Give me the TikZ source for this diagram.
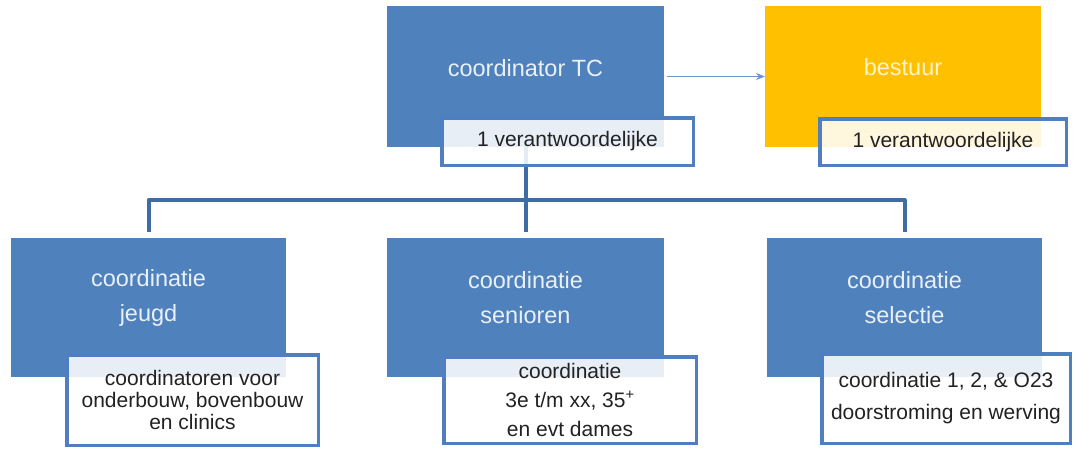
\documentclass[tikz,border=0pt]{standalone}
\usepackage{fontspec}
\setmainfont{Liberation Sans}
\usetikzlibrary{arrows.meta}
\definecolor{boxblue}{HTML}{4F81BD}
\definecolor{edgeblue}{HTML}{4F7FC0}
\definecolor{busblue}{HTML}{3E6CA3}
\definecolor{arrowblue}{HTML}{6C95CF}
\definecolor{gold}{HTML}{FFC000}
\definecolor{labtext}{HTML}{222222}
\tikzset{
  mainbox/.style={fill=boxblue, draw=none, inner sep=0pt, outer sep=0pt},
  goldbox/.style={fill=gold, draw=none, inner sep=0pt, outer sep=0pt},
  labbox/.style={draw=edgeblue, line width=3.5pt, fill=white, fill opacity=0.87, text opacity=1,
     inner sep=0pt, outer sep=0pt, align=center, text=labtext, font=\fontsize{21}{22}\selectfont},
  title/.style={text=white!88!boxblue, align=center, inner sep=0pt, font=\fontsize{23.5}{35}\selectfont},
  gtitle/.style={text=white!80!gold, align=center, inner sep=0pt, font=\fontsize{23.5}{35}\selectfont},
  bus/.style={draw=busblue, line width=4pt, line join=round},
  link/.style={draw=arrowblue, line width=1.6pt, -{Stealth[length=9pt,width=7pt]}}
}
\begin{document}
\begin{tikzpicture}[x=1pt,y=-1pt]
\useasboundingbox (0,0) rectangle (1074,448);
% main boxes
\node[mainbox, minimum width=277pt, minimum height=141pt] (tc) at (525.5,76.5) {};
\node[goldbox, minimum width=276pt, minimum height=141pt] (bst) at (903,76.5) {};
\node[mainbox, minimum width=275pt, minimum height=139pt] (jeugd) at (148.5,307.5) {};
\node[mainbox, minimum width=277pt, minimum height=139pt] (sen) at (525.5,307.5) {};
\node[mainbox, minimum width=275pt, minimum height=139pt] (sel) at (904.5,307.5) {};
% connectors
\coordinate (busy) at (525,200);
\draw[bus] ([yshift=6pt]jeugd.north) -- (jeugd.north |- busy) -- (sel.north |- busy) -- ([yshift=6pt]sel.north);
\draw[bus] (tc.south) -- ([yshift=6pt]sen.north);
\draw[link] ([xshift=3pt]tc.east) -- (bst.west);
% titles
\node[title] (tct) at (525.5,68) {coordinator TC};
\node[gtitle] (bstt) at (903,67) {bestuur};
\node[title] (jeugdt) at (148.5,297.5) {coordinatie\\jeugd};
\node[title] (sent) at (525.5,297.5) {coordinatie\\senioren};
\node[title] (selt) at (904.5,297.5) {coordinatie\\selectie};
% label boxes
\node[labbox, minimum width=251.5pt, minimum height=47.5pt] (tcl) at (567.5,141.5) {\hspace*{0pt}1 verantwoordelijke};
\node[labbox, minimum width=246.5pt, minimum height=46.5pt] (bstl) at (943,142) {1 verantwoordelijke};
\node[labbox, minimum width=251.5pt, minimum height=90.5pt] (jeugdl) at (192.5,400) {coordinatoren voor\\onderbouw, bovenbouw\\en clinics};
\node[labbox, minimum width=252.5pt, minimum height=86.5pt, font=\fontsize{21}{29}\selectfont] (senl) at (570,400) {coordinatie\\3e t/m xx, 35\textsuperscript{+}\\en evt dames};
\node[labbox, minimum width=248.5pt, minimum height=89.5pt, font=\fontsize{21}{32}\selectfont] (sell) at (946,398.5) {coordinatie 1, 2, \& O23\\doorstroming en werving};
\end{tikzpicture}
\end{document}
